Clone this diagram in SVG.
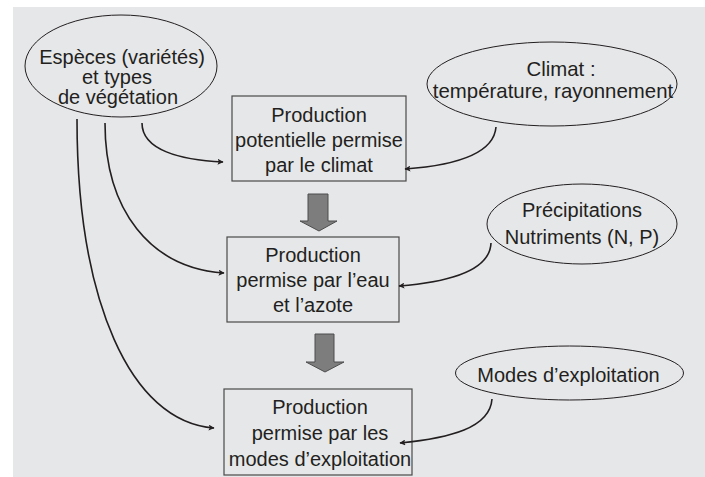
<svg xmlns="http://www.w3.org/2000/svg" width="705" height="477" viewBox="0 0 705 477">
<style>
text{font-family:"Liberation Sans",Arial,sans-serif;font-size:20px;fill:#231f20;text-anchor:middle}
.ell{fill:none;stroke:#231f20;stroke-width:1}
.box{fill:none;stroke:#4a4a4a;stroke-width:1.2}
.con{fill:none;stroke:#231f20;stroke-width:1.6;marker-end:url(#ah)}
.big{fill:#7d7d7d;stroke:#4d4d4d;stroke-width:1}
</style>
<defs>
<marker id="ah" viewBox="0 0 10 10" refX="9" refY="5" markerWidth="6" markerHeight="6" markerUnits="userSpaceOnUse" orient="auto">
<path d="M0,0 L10,5 L0,10 L2,5 Z" fill="#231f20"/>
</marker>
</defs>
<rect x="0" y="0" width="705" height="477" fill="#ffffff"/>
<rect x="13" y="7" width="692" height="470" fill="#e6e7e9"/>
<g id="especes">
<ellipse class="ell" cx="121" cy="66" rx="96" ry="51"/>
<text x="122" y="63.5">Espèces (variétés)</text>
<text x="117" y="83.5">et types</text>
<text x="118" y="103.5">de végétation</text>
</g>
<g id="climat">
<ellipse class="ell" cx="552" cy="84" rx="125" ry="42"/>
<text x="561" y="75.5" style="font-size:20.4px">Climat :</text>
<text x="553" y="97.5" style="font-size:20.4px">température, rayonnement</text>
</g>
<g id="precipitations">
<ellipse class="ell" cx="582" cy="224" rx="95" ry="40"/>
<text x="582" y="217">Précipitations</text>
<text x="582" y="244">Nutriments (N, P)</text>
</g>
<g id="modes">
<ellipse class="ell" cx="569.5" cy="373" rx="114" ry="27"/>
<text x="568.5" y="382">Modes d’exploitation</text>
</g>
<g id="prod1">
<rect class="box" x="232" y="96" width="174" height="85"/>
<text x="319" y="122">Production</text>
<text x="319" y="147">potentielle permise</text>
<text x="319" y="172">par le climat</text>
</g>
<g id="prod2">
<rect class="box" x="227" y="237" width="172" height="85"/>
<text x="313" y="262">Production</text>
<text x="313" y="287">permise par l’eau</text>
<text x="313" y="312">et l’azote</text>
</g>
<g id="prod3">
<rect class="box" x="224" y="389" width="188" height="86"/>
<text x="320" y="414">Production</text>
<text x="320" y="440">permise par les</text>
<text x="320" y="466">modes d’exploitation</text>
</g>
<g id="connectors">
<polygon class="big" points="308,194 328,194 328,221 337,221 319,231 300,221 308,221"/>
<polygon class="big" points="315,334 334,334 334,362 344,362 325,372 306,362 315,362"/>
<path class="con" d="M142,123 C142,150 180,160 223,162"/>
<path class="con" d="M105,123 C105,210 150,268 224,273"/>
<path class="con" d="M77,119 C77,300 130,422 214,428"/>
<path class="con" d="M496,127 C494,152 460,165 405,169"/>
<path class="con" d="M491,243 C490,270 450,282 399,286"/>
<path class="con" d="M492,399 C490,428 450,438 400,443"/>
</g>
</svg>
